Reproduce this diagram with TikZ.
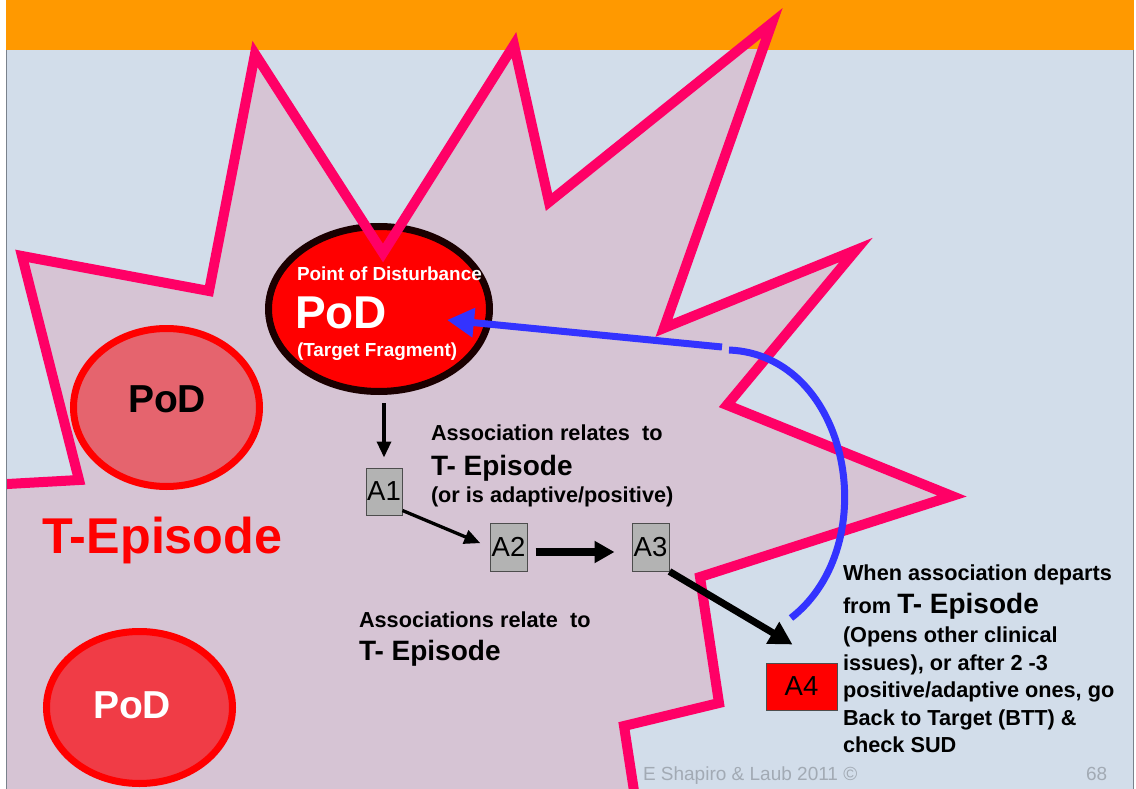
\documentclass[tikz,border=0pt]{standalone}
\usepackage{fontspec}
\setmainfont{Liberation Sans}
\usetikzlibrary{shapes.geometric,arrows.meta}
\definecolor{orng}{HTML}{FF9900}
\definecolor{bgblue}{HTML}{D2DDEA}
\definecolor{starfill}{HTML}{D6C4D4}
\definecolor{starline}{HTML}{FF0066}
\definecolor{arcblue}{HTML}{3333FF}
\definecolor{podred}{HTML}{FF0000}
\definecolor{podborder}{HTML}{1A0000}
\definecolor{podlight}{HTML}{E5646E}
\definecolor{podmid}{HTML}{F03C46}
\definecolor{boxgray}{HTML}{B3B3B3}
\definecolor{boxline}{HTML}{4D4D4D}
\definecolor{footgray}{HTML}{A2AAB4}
\definecolor{framegray}{HTML}{7A828C}
\newcommand\fsBody{\fontsize{21.7pt}{26pt}\selectfont\bfseries}
\newcommand\fsBig{\fontsize{28pt}{32pt}\selectfont\bfseries}
\newcommand\fsPoint{\fontsize{18.9pt}{22pt}\selectfont\bfseries}
\newcommand\fsPodMain{\fontsize{46pt}{50pt}\selectfont\bfseries}
\newcommand\fsPodSide{\fontsize{39pt}{44pt}\selectfont\bfseries}
\newcommand\fsEpisode{\fontsize{50.3pt}{56pt}\selectfont\bfseries}
\newcommand\fsBox{\fontsize{27.5pt}{30pt}\selectfont}
\newcommand\fsFoot{\fontsize{19pt}{22pt}\selectfont}
\tikzset{
  txt/.style={anchor=base west, inner sep=0pt, outer sep=0pt, font=\fsBody, text=black},
  abox/.style={draw=boxline, line width=1pt, fill=boxgray, inner sep=0pt, font=\fsBox},
  podmain/.style={ellipse, draw=podborder, line width=7pt, fill=podred, inner sep=0pt},
  podside/.style={ellipse, draw=podred, line width=7pt, inner sep=0pt},
  thinarr/.style={draw=black, line width=3.3pt, -{Triangle[length=16pt,width=14pt]}},
  thickarr/.style={draw=black, line width=7.5pt, -{Triangle[length=20pt,width=21pt]}},
  diagarr/.style={draw=black, line width=7pt, -{Triangle[length=23pt,width=24pt]}},
  bluearr/.style={draw=arcblue, line width=7pt, -{Triangle[length=27pt,width=28pt]}},
  blueline/.style={draw=arcblue, line width=7pt},
  starstroke/.style={draw=starline, line width=10pt, line join=miter, miter limit=25}
}
\begin{document}
\begin{tikzpicture}[x=1pt,y=-1pt]
\useasboundingbox (0,0) rectangle (1136,789);
% slide background
\fill[white] (0,0) rectangle (1136,789);
\fill[bgblue] (7,50) rectangle (1133,789);
\fill[orng] (6,0) rectangle (1134,50);
\draw[framegray, line width=1.2pt] (6.6,50) -- (6.6,789);
\draw[framegray, line width=1.2pt] (1133.4,50) -- (1133.4,789);
% star fill
\begin{scope}
\clip (7,50) rectangle (1133,789);
\fill[starfill] (22,256) -- (209,291) -- (255,54) -- (383,253) -- (514,45) -- (549,202) -- (772,23) -- (664,328) -- (856,250) -- (727,405) -- (952,496) -- (700,577) -- (719,703) -- (624,726) -- (640,830) -- (-100,830) -- (-100,490) -- (79,480) -- cycle;
\end{scope}
% ellipses
\node[podmain, minimum width=221pt, minimum height=165pt] (pod) at (379,309) {};
\node[podside, fill=podlight, minimum width=186pt, minimum height=158pt] (podleft) at (166.5,407.5) {};
\node[podside, fill=podmid, minimum width=186pt, minimum height=152pt] (podbottom) at (139.5,707.5) {};
% star outline
\begin{scope}
\clip (7,0) rectangle (1133,789);
\draw[starstroke] (22,256) -- (209,291) -- (255,54) -- (383,253) -- (514,45) -- (549,202) -- (772,23) -- (664,328) -- (856,250) -- (727,405) -- (952,496) -- (700,577) -- (719,703) -- (624,726) -- (640,830) -- (-100,830) -- (-100,490) -- (79,480) -- cycle;
\end{scope}
% association boxes
\node[abox, minimum width=36pt, minimum height=47pt] (a1) at (384,491.5) {A1};
\node[abox, minimum width=37pt, minimum height=48pt] (a2) at (508.5,547) {A2};
\node[abox, minimum width=37pt, minimum height=48pt] (a3) at (650.5,547) {A3};
\node[abox, fill=podred, minimum width=71pt, minimum height=47pt] (a4) at (801.5,686.5) {A4};
% connectors
\draw[thinarr, shorten <=8pt, shorten >=10pt] (pod.south -| a1.north) -- (a1.north);
\draw[thinarr, shorten >=10pt] ([yshift=5pt]a1.south east) -- (a2.west);
\draw[thickarr, shorten <=8pt, shorten >=17pt] ([yshift=-5pt]a2.east) -- ([yshift=-5pt]a3.west);
\draw[diagarr] (a3.south east) -- ([xshift=-9pt,yshift=18pt]a4.north);
\coordinate (bstart) at (722,347);
\coordinate (arctop) at (729,350);
\coordinate (arcbot) at (791,618);
\draw[bluearr] (bstart) -- ([xshift=-46pt,yshift=-11pt]pod.east);
\draw[blueline] (arctop) .. controls (850,355) and (885,545) .. (arcbot);
% texts in ellipses
\node[txt, font=\fsPoint, text=white] (podt1) at (297,280) {Point of Disturbance};
\node[txt, font=\fsPodMain, text=white] (podt2) at (295,328) {PoD};
\node[txt, font=\fsPoint, text=white] (podt3) at (297,356) {(Target Fragment)};
\node[txt, font=\fsPodSide, text=black] (podleftt) at (128,412) {PoD};
\node[txt, font=\fsPodSide, text=white] (podbottomt) at (93,718) {PoD};
\node[txt, font=\fsEpisode, text=podred] (tepisode) at (42,553) {T-Episode};
% association labels
\node[txt] (as1) at (431,440) {Association relates\ \ to};
\node[txt, font=\fsBig] (as2) at (431,475) {T- Episode};
\node[txt] (as3) at (431,502) {(or is adaptive/positive)};
\node[txt] (rel1) at (359,627) {Associations relate\ \ to};
\node[txt, font=\fsBig] (rel2) at (359,660) {T- Episode};
% right block
\node[txt] (r1) at (843,580) {When association departs};
\node[txt] (r2) at (843,613) {from {\fsBig T- Episode}};
\node[txt] (r3) at (843,642) {(Opens other clinical};
\node[txt] (r4) at (843,670) {issues), or after 2 -3};
\node[txt] (r5) at (843,697) {positive/adaptive ones, go};
\node[txt] (r6) at (843,725) {Back to Target (BTT) \&};
\node[txt] (r7) at (843,752) {check SUD};
% footer
\node[txt, font=\fsFoot, text=footgray] (foot) at (643,780) {E Shapiro \& Laub 2011 ©};
\node[txt, font=\fsFoot, text=footgray] (pagenum) at (1086,780) {68};
\end{tikzpicture}
\end{document}
